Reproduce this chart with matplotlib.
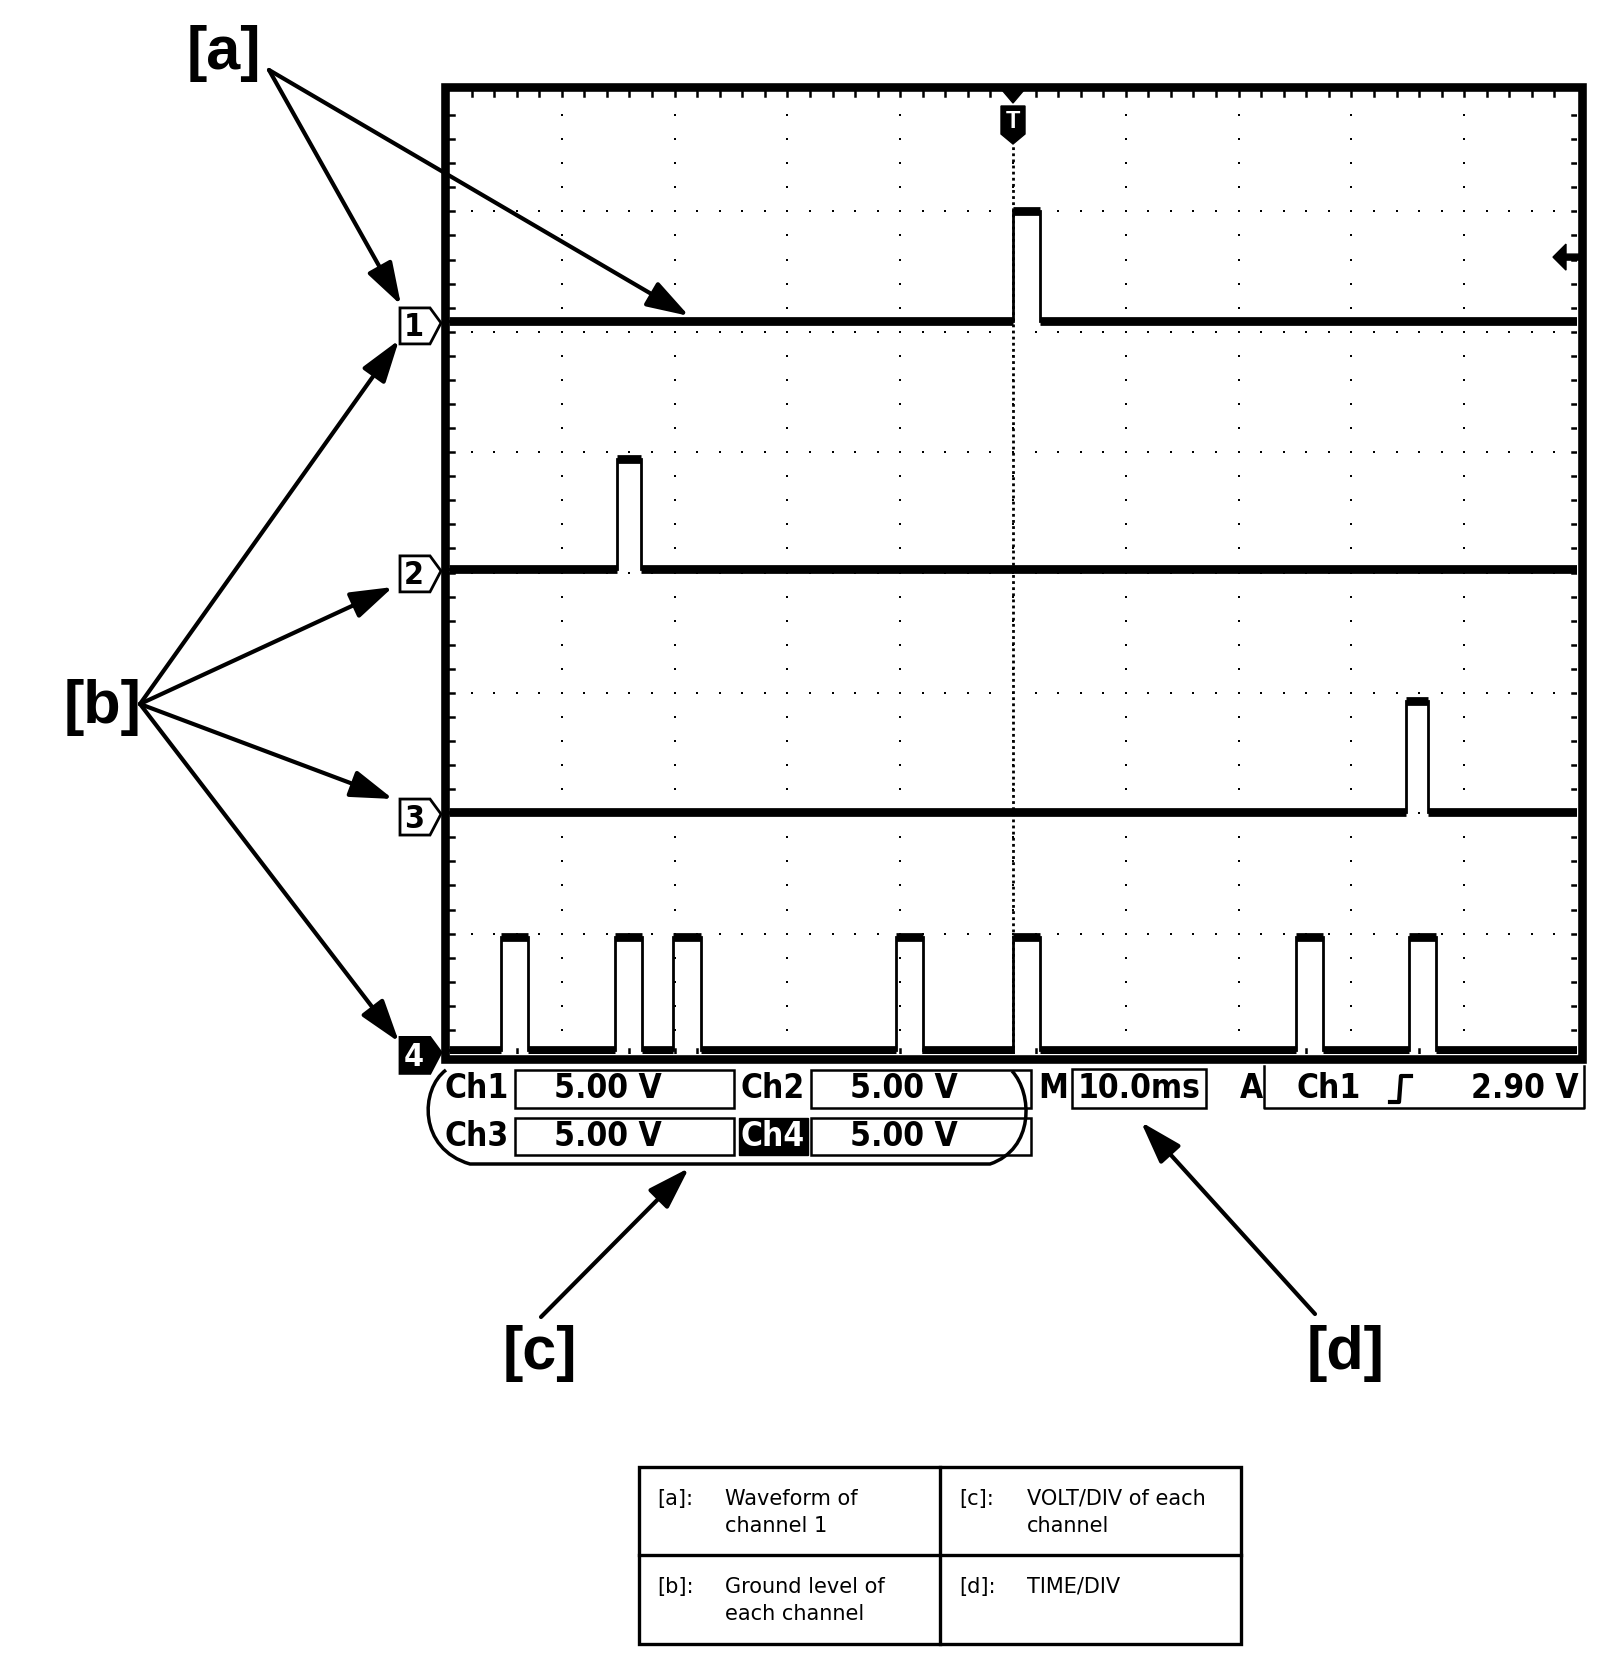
import numpy as np
import matplotlib
matplotlib.use("Agg")
from matplotlib import pyplot as plt
from matplotlib.patches import Rectangle, Polygon, PathPatch
from matplotlib.path import Path

# values
time_per_div_ms = 10.0
volts_per_div = [5.00, 5.00, 5.00, 5.00]
trigger_level_v = 2.90
ground_div = [6.09, 4.03, 2.01, 0.03]      # ground level of each channel (divisions from bottom)
pulse_high_v = [4.55, 4.55, 4.6, 4.7]
pulse_width_ms = [2.4, 2.1, 2.0, 2.4]
ch1_pulse_ms = [0.0]
ch2_pulse_ms = [-35.1]
ch3_pulse_ms = [34.8]
ch4_pulse_ms = [-45.4, -35.3, -30.1, -10.4, 0.0, 25.1, 35.1]
pulse_starts = [ch1_pulse_ms, ch2_pulse_ms, ch3_pulse_ms, ch4_pulse_ms]

legend_rows = [
    ("[a]:", "Waveform of\nchannel 1", "[c]:", "VOLT/DIV of each\nchannel"),
    ("[b]:", "Ground level of\neach channel", "[d]:", "TIME/DIV"),
]

# screen placement in pixels (inner edge of the graticule frame)
W, H = 1600, 1656
SL, SR, ST, SB = 449, 1577, 92, 1055
N_XDIV, N_YDIV = 10, 8
T0 = -N_XDIV / 2 * time_per_div_ms
T1 = N_XDIV / 2 * time_per_div_ms

def px_x(t):
    return SL + (t - T0) / (T1 - T0) * (SR - SL)

def px_y(d):
    return SB - d / N_YDIV * (SB - ST)

SCOPE = dict(family="DejaVu Sans", stretch="condensed", weight="bold")
SANS = dict(family="Liberation Sans", weight="bold")

fig = plt.figure(figsize=(W / 100, H / 100), dpi=100)
ax = fig.add_axes([SL / W, 1 - SB / H, (SR - SL) / W, (SB - ST) / H])
ax.set_xlim(T0, T1)
ax.set_ylim(0, N_YDIV)
ax.axis("off")

# graticule: dotted division lines
minor_t = np.arange(T0, T1 + 0.01, time_per_div_ms / 5)
minor_d = np.arange(0, N_YDIV + 0.01, 0.2)
for k in range(1, N_XDIV):
    t = T0 + k * time_per_div_ms
    ax.plot([t] * len(minor_d[1:-1]), minor_d[1:-1], "s", color="black", ms=2.1, mew=0)
for k in range(1, N_YDIV):
    ax.plot(minor_t[1:-1], [k] * len(minor_t[1:-1]), "s", color="black", ms=2.1, mew=0)
# ticks on the inside of the frame
for t in minor_t[1:-1]:
    ax.plot([t, t], [0, 0.045], color="black", lw=1.8)
    ax.plot([t, t], [N_YDIV - 0.045, N_YDIV], color="black", lw=1.8)
for d in minor_d[1:-1]:
    ax.plot([T0, T0 + 0.45], [d, d], color="black", lw=1.8)
    ax.plot([T1 - 0.45, T1], [d, d], color="black", lw=1.8)

# trigger position line
ax.plot([0, 0], [0, 7.55], color="black", lw=2.0, ls=(0, (1.0, 1.2)))

# waveforms
for ch in range(4):
    w = pulse_width_ms[ch]
    hi = pulse_high_v[ch] / volts_per_div[ch]
    t = [T0]
    v = [0.0]
    for s in pulse_starts[ch]:
        t += [s, s, s + w, s + w]
        v += [0.0, hi, hi, 0.0]
    t.append(T1)
    v.append(0.0)
    t = np.array(t)
    y = ground_div[ch] + np.array(v)
    ax.plot(t, y, color="black", lw=2.0, solid_joinstyle="miter")
    # the flat parts of the trace are drawn thick
    for i in range(len(t) - 1):
        if y[i] == y[i + 1]:
            ax.plot(t[i:i + 2], y[i:i + 2], color="black", lw=6.3, solid_capstyle="butt")

# overlay in pixel coordinates for everything around the screen
ov = fig.add_axes([0, 0, 1, 1], zorder=5)
ov.set_xlim(0, W)
ov.set_ylim(H, 0)
ov.axis("off")
ov.patch.set_alpha(0)

ov.add_patch(Rectangle((444.5, 87.5), 1137, 972, fill=False, lw=6.2, ec="black", joinstyle="miter"))

# trigger marker at top
ov.add_patch(Polygon([(1002, 91), (1024, 91), (1013, 104)], color="black"))
ov.add_patch(Polygon([(1001, 107), (1025, 107), (1025, 135), (1013, 145), (1001, 135)], color="black"))
ov.text(1013, 121, "T", color="white", ha="center", va="center", fontsize=17, **SANS)

# trigger level marker on the right edge
ty = px_y(ground_div[0] + trigger_level_v / volts_per_div[0]) + 6
ov.add_patch(Polygon([(1553, ty), (1566, ty - 13), (1566, ty - 3), (1580, ty - 3),
                      (1580, ty + 3), (1566, ty + 3), (1566, ty + 13)], color="black"))

# ground level markers
for ch in range(4):
    gy = px_y(ground_div[ch]) + 5
    pts = [(400, gy - 18), (430, gy - 18), (441, gy - 3), (430, gy + 18), (400, gy + 18)]
    filled = ch == 3
    ov.add_patch(Polygon(pts, closed=True, fc="black" if filled else "white", ec="black", lw=2))
    ov.text(414, gy + 1, str(ch + 1), ha="center", va="center", fontsize=23,
            color="white" if filled else "black", **SCOPE)

# volt/div block
rows_y = [1089, 1137]
box_y = [(1071, 1109), (1119, 1156)]
for r in range(2):
    y0, y1 = box_y[r]
    for c, (lx, bx0, bx1) in enumerate([(443, 515, 734), (739, 811, 1031)]):
        ch = r * 2 + c
        if ch == 3:
            ov.add_patch(Rectangle((lx, y0), 69, y1 - y0, color="black"))
            ov.text(lx + 34, rows_y[r], "Ch4", color="white", ha="center", va="center", fontsize=24, **SCOPE)
        else:
            ov.text(lx + 2, rows_y[r], f"Ch{ch + 1}", ha="left", va="center", fontsize=24, **SCOPE)
        ov.add_patch(Rectangle((bx0, y0), bx1 - bx0, y1 - y0, fill=False, lw=1.8, ec="black"))
        ov.text(bx0 + 39, rows_y[r], f"{volts_per_div[ch]:.2f} V", ha="left", va="center", fontsize=24, **SCOPE)

# rounded outline around the volt/div block
verts = [(446, 1071), (420, 1090), (418, 1150), (470, 1165),
         (990, 1165), (990, 1165), (1034, 1150), (1033, 1095), (1012, 1072)]
codes = [Path.MOVETO, Path.CURVE4, Path.CURVE4, Path.CURVE4,
         Path.LINETO, Path.LINETO, Path.CURVE4, Path.CURVE4, Path.CURVE4]
ov.add_patch(PathPatch(Path(verts, codes), fill=False, lw=2.5, ec="black"))

# time/div and trigger readout
ov.text(1053, 1089, "M", ha="center", va="center", fontsize=24, **SCOPE)
ov.add_patch(Rectangle((1072, 1070), 134, 39, fill=False, lw=1.8, ec="black"))
ov.text(1139, 1089, f"{time_per_div_ms:.1f}ms", ha="center", va="center", fontsize=24, **SCOPE)
ov.text(1251, 1089, "A", ha="center", va="center", fontsize=24, **SCOPE)
ov.plot([1264, 1264, 1584, 1584], [1067, 1109, 1109, 1067], color="black", lw=1.8)
ov.text(1297, 1089, "Ch1", ha="left", va="center", fontsize=24, **SCOPE)
ov.plot([1390, 1399, 1401, 1411], [1103, 1103, 1077, 1077], color="black", lw=3)
ov.text(1579, 1089, f"{trigger_level_v:.2f} V", ha="right", va="center", fontsize=24, **SCOPE)

# callout labels and arrows
arrow = dict(arrowstyle="-|>,head_length=1.3,head_width=0.42", lw=3, color="black",
             shrinkA=0, shrinkB=0, mutation_scale=20)
labels = [("[a]", 224, 54), ("[b]", 103, 708), ("[c]", 540, 1354), ("[d]", 1346, 1354)]
for txt, x, y in labels:
    ov.text(x, y, txt, ha="center", va="center", fontsize=44, **SANS)

arrows = [((269, 71), (401, 306)), ((269, 71), (689, 317)),
          ((140, 705), (399, 341)), ((140, 705), (393, 588)),
          ((140, 705), (393, 800)), ((140, 705), (399, 1043)),
          ((541, 1318), (689, 1169)), ((1315, 1315), (1141, 1123))]
for start, end in arrows:
    ov.annotate("", xy=end, xytext=start, arrowprops=arrow)

# legend table
ov.add_patch(Rectangle((639, 1468), 602, 177, fill=False, lw=2.4, ec="black"))
ov.plot([940, 940], [1468, 1645], color="black", lw=2.4)
ov.plot([639, 1241], [1556, 1556], color="black", lw=2.4)
for r, (k1, v1, k2, v2) in enumerate(legend_rows):
    y = 1489 + r * 88
    for kx, vx, k, v in [(657, 725, k1, v1), (959, 1027, k2, v2)]:
        ov.text(kx, y, k, ha="left", va="top", fontsize=15, family="DejaVu Sans")
        ov.text(vx, y, v, ha="left", va="top", fontsize=15, family="DejaVu Sans", linespacing=1.45)

fig.savefig("out.png", dpi=100, facecolor="white")
